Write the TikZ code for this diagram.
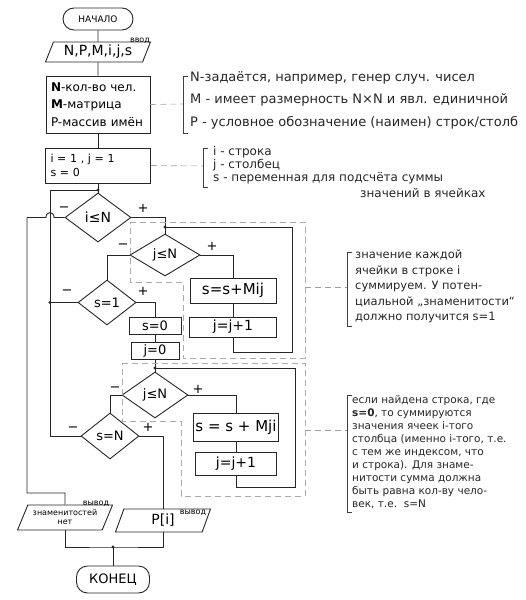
\documentclass[tikz,border=0pt]{standalone}
\usepackage{fontspec}
\setmainfont{DejaVu Sans}
\usetikzlibrary{shapes.geometric}

\begin{document}
\begin{tikzpicture}[x=1pt, y=-1pt,
  liniya/.style={line width=0.9pt, black!85},
  blok/.style={rectangle, draw=black!85, line width=0.9pt, inner sep=2pt},
  terminal/.style={blok, rounded corners=11pt},
  vvod/.style={trapezium, draw=black!85, line width=0.9pt, trapezium stretches body, inner sep=1pt},
  uslovie/.style={diamond, draw=black!85, line width=0.9pt, inner sep=0pt},
  zona/.style={dash pattern=on 6pt off 4pt, line width=0.6pt, gray!65},
  vynoska/.style={dash pattern=on 6pt off 4pt, line width=0.6pt, gray!75},
  skobka/.style={line width=0.7pt, black!75},
  znak/.style={font=\fontsize{13}{13}\selectfont, inner sep=0pt},
  pometka/.style={font=\fontsize{8}{8}\selectfont, inner sep=0pt},
  tekst/.style={align=left, anchor=north west, inner sep=0pt, black!85},
  ]

  \useasboundingbox (0,0) rectangle (526,600);

  \def\os{98}      % основная вертикаль схемы
  \def\vozvr{50}   % линия возврата во внешний цикл

  %%═══ НАЧАЛО, ВВОД, ОПИСАНИЕ ══════════════════════════════
  \node[terminal, minimum width=70, minimum height=22, font=\fontsize{9}{9}\selectfont] (nachalo) at (\os,19) {НАЧАЛО};
  \node[vvod, trapezium left angle=63, trapezium right angle=117, minimum width=105, minimum height=20,
        font=\fontsize{14}{14}\selectfont] (vvodd) at (\os,52) {N,P,M,i,j,s};
  \node[pometka] (vvodpom) at (140,41) {ввод};
  \node[blok, text width=94, inner xsep=5, minimum height=57, align=left,
        font=\fontsize{12}{17.5}\selectfont] (opisanie) at (\os,104.5)
        {\textbf{N}-кол-во чел.\\\textbf{M}-матрица\\P-массив имён};
  \node[blok, text width=95, inner xsep=5, minimum height=35, align=left,
        font=\fontsize{11}{14}\selectfont] (nachzn) at (\os,165.5) {i = 1 , j = 1\\s = 0};

  %%═══ ВНЕШНИЙ ЦИКЛ ПО i ════════════════════════════════════
  \coordinate (uzel_i) at (\os,190);
  \node[uslovie, minimum width=66, minimum height=49, font=\fontsize{14}{14}\selectfont] (usl_i) at (\os,217.5) {i≤N};

  %%═══ ПЕРВЫЙ ЦИКЛ ПО j (строка i) ══════════════════════════
  \coordinate (uzel_j1) at (165,227);
  \node[uslovie, minimum width=70, minimum height=42, font=\fontsize{13}{13}\selectfont] (usl_j1) at (165,255) {j≤N};
  \node[blok, minimum width=86, minimum height=25, font=\fontsize{15}{15}\selectfont] (summa1) at (233,290.5) {s=s+Mij};
  \node[blok, minimum width=87, minimum height=20, font=\fontsize{14}{14}\selectfont] (shag1) at (233,327) {j=j+1};
  \coordinate (povtor1) at (292,352);

  \node[uslovie, minimum width=58, minimum height=45, font=\fontsize{13}{13}\selectfont] (usl_s1) at (107,302.5) {s=1};
  \node[blok, minimum width=52, minimum height=17, font=\fontsize{13}{13}\selectfont] (obnul) at (155,325.5) {s=0};
  \node[blok, minimum width=48, minimum height=16, font=\fontsize{13}{13}\selectfont] (jnol) at (155,351) {j=0};

  %%═══ ВТОРОЙ ЦИКЛ ПО j (столбец i) ═════════════════════════
  \coordinate (uzel_j2) at (155,368);
  \node[uslovie, minimum width=66, minimum height=46, font=\fontsize{13}{13}\selectfont] (usl_j2) at (155,395) {j≤N};
  \node[blok, minimum width=84, minimum height=28, font=\fontsize{15}{15}\selectfont] (summa2) at (236,427.5) {s = s + Mji};
  \node[blok, minimum width=81, minimum height=23, font=\fontsize{14}{14}\selectfont] (shag2) at (236,463.5) {j=j+1};
  \coordinate (povtor2) at (295,487);

  \node[uslovie, minimum width=58, minimum height=46, font=\fontsize{13}{13}\selectfont] (usl_sN) at (110,436) {s=N};

  %%═══ ВЫВОД И КОНЕЦ ════════════════════════════════════════
  \node[vvod, trapezium left angle=59, trapezium right angle=121, minimum width=95, minimum height=25,
        align=center, font=\fontsize{8}{9}\selectfont] (vyvod_net) at (65,517.5) {знаменитостей\\нет};
  \node[pometka] (netpom) at (96,504) {вывод};
  \node[vvod, trapezium left angle=60, trapezium right angle=120, minimum width=95, minimum height=23,
        font=\fontsize{14}{14}\selectfont] (vyvod_p) at (163,520.5) {P[i]};
  \node[pometka] (ppom) at (193,513) {вывод};
  \coordinate (uzel_k) at (113,547);
  \node[terminal, minimum width=73, minimum height=27, font=\fontsize{13}{13}\selectfont] (konec) at (113,579.5) {КОНЕЦ};

  % точки обхода и возврата
  \coordinate (vozvrat_i) at (\vozvr,0);
  \coordinate (lev_i) at (27,493);
  \coordinate (obhodA) at (54,217.5);
  \coordinate (obhodB) at (46,217.5);

  %%═══ СОЕДИНЕНИЯ ═══════════════════════════════════════════
  \draw[liniya] (nachalo.south) -- (vvodd.north);
  \draw[liniya] (vvodd.south) -- (opisanie.north);
  \draw[liniya] (opisanie.south) -- (nachzn.north);
  \draw[liniya] (nachzn.south) -- (usl_i.north);
  % i<=N: "+" во внутренний цикл, "-" на вывод
  \draw[liniya] (usl_i.east) -| (usl_j1.north);
  \draw[liniya] (usl_i.west) -- (obhodA) .. controls (54,211) and (46,211) .. (obhodB) -| (lev_i) -| (vyvod_net.north);
  % первый цикл по j
  \draw[liniya] (usl_j1.east) -| (summa1.north);
  \draw[liniya] (summa1) -- (shag1);
  \draw[liniya] (shag1.south) |- (povtor1) |- (uzel_j1);
  \draw[liniya] (usl_j1.west) -| (usl_s1.north);
  \draw[liniya] (usl_s1.east) -| (obnul.north);
  \draw[liniya] (obnul) -- (jnol);
  \draw[liniya] (jnol) -- (usl_j2);
  \draw[liniya] (usl_s1.west) -- (usl_s1.west -| vozvrat_i);
  % второй цикл по j
  \draw[liniya] (usl_j2.east) -| (summa2.north);
  \draw[liniya] (summa2) -- (shag2);
  \draw[liniya] (shag2.south) |- (povtor2) |- (uzel_j2);
  \draw[liniya] (usl_j2.west) -| (usl_sN.north);
  \draw[liniya] (usl_sN.west) -- (usl_sN.west -| vozvrat_i) |- (uzel_i);
  \draw[liniya] (usl_sN.east) -| (vyvod_p.north);
  % сведение выводов к концу
  \draw[liniya] (vyvod_net.south) |- (uzel_k) -| (vyvod_p.south);
  \draw[liniya] (uzel_k) -- (konec.north);

  % узлы слияния
  \foreach \u in {uzel_i, uzel_j1, uzel_j2, uzel_k}
    \fill[black!85] (\u) circle (1.6pt);
  \fill[black!85] (usl_s1.west -| vozvrat_i) circle (1.6pt);

  % метки ветвлений
  \node[znak] (i_ne) at (64,209) {−};
  \node[znak] (i_da) at (143,208) {+};
  \node[znak] (j1_ne) at (123,246) {−};
  \node[znak] (j1_da) at (212,246) {+};
  \node[znak] (s1_ne) at (67,292) {−};
  \node[znak] (s1_da) at (143,291) {+};
  \node[znak] (j2_ne) at (115,389) {−};
  \node[znak] (j2_da) at (198,389) {+};
  \node[znak] (sN_ne) at (73,429) {−};
  \node[znak] (sN_da) at (148,427) {+};

  %%═══ ПУНКТИРНЫЕ ОБЛАСТИ ═══════════════════════════════════
  \draw[zona] (130,222) -- (305,222) -- (305,358) -- (183,358) -- (183,282) -- (130,282) -- cycle;
  \draw[zona] (122,363) -- (305,363) -- (305,496) -- (181,496) -- (181,421) -- (122,421) -- cycle;
  \coordinate (zona1) at (305,287);
  \coordinate (zona2) at (305,430);

  %%═══ ПОЯСНЕНИЯ ════════════════════════════════════════════
  \coordinate (sk1) at (183,104);
  \coordinate (sk2) at (203,166);
  \coordinate (sk3) at (347,287);
  \coordinate (sk4) at (347,430);
  \draw[vynoska] (opisanie.east) -- (sk1);
  \draw[vynoska] (nachzn.east) -- (sk2);
  \draw[vynoska] (zona1) -- (sk3);
  \draw[vynoska] (zona2) -- (sk4);
  \draw[skobka] (188,76) -- (183,76) -- (183,133) -- (188,133);
  \draw[skobka] (208,148) -- (203,148) -- (203,187) -- (208,187);
  \draw[skobka] (352,252) -- (347,252) -- (347,326) -- (352,326);
  \draw[skobka] (352,395) -- (347,395) -- (347,512) -- (352,512);

  \node[tekst, font=\fontsize{13}{22.5}\selectfont] (poyasn1) at (190,71)
    {N-задаётся, например, генер случ. чисел\\M - имеет размерность N×N и явл. единичной\\P - условное обозначение (наимен) строк/столб};
  \node[tekst, font=\fontsize{12}{13}\selectfont] (poyasn2) at (213,146)
    {i - строка\\j - столбец\\s - переменная для подсчёта суммы};
  \node[tekst, font=\fontsize{12}{13}\selectfont] (poyasn2b) at (360,188) {значений в ячейках};
  \node[tekst, font=\fontsize{11.5}{15.5}\selectfont] (poyasn3) at (355,250)
    {значение каждой\\ячейки в строке i\\суммируем. У потен-\\циальной „знаменитости“\\должно получится s=1};
  \node[tekst, font=\fontsize{10.5}{13.1}\selectfont] (poyasn4) at (352,395)
    {если найдена строка, где\\\textbf{s=0}, то суммируются\\значения ячеек i-того\\столбца (именно i-того, т.е.\\с тем же индексом, что\\и строка). Для знаме-\\нитости сумма должна\\быть равна кол-ву чело-\\век, т.е.\ \ s=N};

\end{tikzpicture}
\end{document}
